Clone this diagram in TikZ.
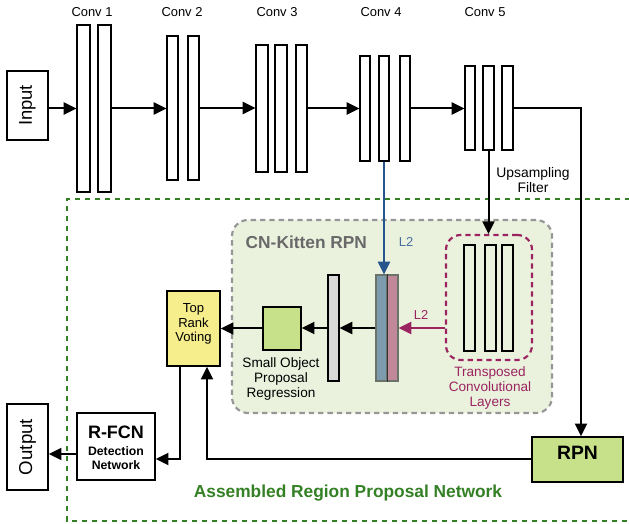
\documentclass[tikz,border=0pt]{standalone}
\usepackage{fontspec}
\setmainfont{Liberation Sans}
\usetikzlibrary{arrows.meta,fit}
\definecolor{agreen}{RGB}{52,128,36}
\definecolor{kfill}{RGB}{234,242,222}
\definecolor{kgray}{RGB}{150,150,150}
\definecolor{ktext}{RGB}{105,105,105}
\definecolor{yel}{RGB}{246,237,140}
\definecolor{lgreen}{RGB}{198,225,138}
\definecolor{lgray}{RGB}{216,216,216}
\definecolor{bline}{RGB}{38,84,140}
\definecolor{bbar}{RGB}{125,155,172}
\definecolor{pbar}{RGB}{192,136,152}
\definecolor{maroon}{RGB}{155,36,96}
\definecolor{cborder}{RGB}{105,115,105}
\begin{document}
\begin{tikzpicture}[x=0.75pt,y=-0.75pt,
  bar/.style={draw,line width=0.9pt,fill=white,inner sep=0pt},
  box/.style={draw,line width=1pt,inner sep=0pt},
  arr/.style={line width=1.5pt,-{Triangle[length=9.5pt,width=9pt]}},
  lbl/.style={font=\fontsize{9.7}{11}\selectfont},
  small/.style={font=\fontsize{10.2}{11.2}\selectfont,align=center,inner sep=0pt},
]
\useasboundingbox (0,0) rectangle (629,524);

% Assembled RPN frame
\draw[agreen,line width=1.8pt,dash pattern=on 3.8pt off 3.7pt] (640,199) -- (67,199) -- (67,521) -- (640,521);
\node[font=\bfseries\fontsize{13}{15}\selectfont,text=agreen] (asm) at (348,493) {Assembled Region Proposal Network};

% CN-Kitten box
\node[draw=kgray,fill=kfill,line width=1.6pt,dash pattern=on 4pt off 3pt,rounded corners=12pt,inner sep=0pt,fit={(232,220) (552,413)}] (kit) {};
\node[anchor=west,font=\bfseries\fontsize{13}{15}\selectfont,text=ktext] (kitt) at (241,242) {CN-Kitten RPN};

% Input / Output
\node[box,fit={(7,71) (48,140)}] (input) {};
\node[rotate=90,font=\fontsize{13.8}{15}\selectfont] (inputt) at (input) {Input};
\node[box,fit={(7,404) (48,490)}] (output) {};
\node[rotate=90,font=\fontsize{14}{15}\selectfont] (outputt) at (output) {Output};

% Conv bars
\node[bar,fit={(77,25) (90,192)}] (c1a) {};
\node[bar,fit={(98,25) (111,192)}] (c1b) {};
\node[bar,fit={(167,36) (178,180)}] (c2a) {};
\node[bar,fit={(188,36) (199,180)}] (c2b) {};
\node[bar,fit={(256,45) (268,172)}] (c3a) {};
\node[bar,fit={(275,45) (287,172)}] (c3b) {};
\node[bar,fit={(296,45) (307,172)}] (c3c) {};
\node[bar,fit={(360,56) (370,161)}] (c4a) {};
\node[bar,fit={(379,56) (389,161)}] (c4b) {};
\node[bar,fit={(400,56) (410,161)}] (c4c) {};
\node[bar,fit={(465,66) (475,150)}] (c5a) {};
\node[bar,fit={(483,66) (494,150)}] (c5b) {};
\node[bar,fit={(502,66) (513,150)}] (c5c) {};

\node[lbl] (l1) at (92,12) {Conv 1};
\node[lbl] (l2) at (182,12) {Conv 2};
\node[lbl] (l3) at (277,12) {Conv 3};
\node[lbl] (l4) at (381,12) {Conv 4};
\node[lbl] (l5) at (485,12) {Conv 5};

\draw[arr] (input.east |- c1a.west) -- (c1a.west);
\draw[arr] (c1b.east) -- (c1b.east -| c2a.west);
\draw[arr] (c2b.east) -- (c2b.east -| c3a.west);
\draw[arr] (c3c.east) -- (c3c.east -| c4a.west);
\draw[arr] (c4c.east) -- (c4c.east -| c5a.west);

% Transposed conv layers
\node[draw=maroon,line width=1.6pt,dash pattern=on 4pt off 3pt,rounded corners=11pt,inner sep=0pt,fit={(446,235) (532,360)}] (tbox) {};
\node[bar,fill=none,fit={(464,245) (475,351)}] (t1) {};
\node[bar,fill=none,fit={(485,245) (496,351)}] (t2) {};
\node[bar,fill=none,fit={(502,245) (513,351)}] (t3) {};
\node[small,text=maroon] (tlab) at (490,388) {Transposed\\Convolutional\\Layers};

% Concat bar
\node[draw=cborder,line width=0.9pt,fill=bbar,inner sep=0pt,fit={(376,275) (387,381)}] (cat1) {};
\node[draw=cborder,line width=0.9pt,fill=pbar,inner sep=0pt,fit={(387,275) (398,381)}] (cat2) {};
\draw[line width=0.9pt,black!80] (cat1.north east) -- (cat1.south east);

% gray bar, small box, voting
\node[bar,fill=lgray,fit={(328,275) (339,381)}] (gbar) {};
\node[box,fill=lgreen,fit={(263,307) (301,350)}] (sbox) {};
\node[small] (slab) at (281,379) {Small Object\\Proposal\\Regression};
\node[box,fill=yel,fit={(167,291) (220,366)},font=\fontsize{9.8}{11}\selectfont,align=center] (trv) {Top\\Rank\\Voting};

% R-FCN and RPN
\node[box,fill=white,fit={(77,413) (155,480)}] (rfcn) {};
\node[font=\bfseries\fontsize{13.5}{15}\selectfont] (rfcnt) at (116,432) {R-FCN};
\node[font=\bfseries\fontsize{9.2}{10.5}\selectfont,align=center] (rfcnd) at (116,458) {Detection\\Network};
\node[box,fill=lgreen,fit={(532,437) (623,482)},font=\bfseries\fontsize{14.5}{16}\selectfont] (rpn) {RPN};

% connectors in kitten
\draw[arr] (cat1.west) -- (gbar.east);
\draw[arr] (gbar.west) -- (gbar.west -| sbox.east);
\draw[arr] (sbox.west) -- (sbox.west -| trv.east);
\draw[arr,maroon] (tbox.west |- cat2.east) -- (cat2.east);
\node[text=maroon,font=\fontsize{9.7}{11}\selectfont] (l2m) at (421,315) {L2};

% blue L2
\draw[arr,bline] (c4b.south) -- (c4b.south |- cat1.north);
\node[text=bline!85!white,font=\fontsize{9.7}{11}\selectfont] (l2b) at (406,242) {L2};

% upsampling
\draw[arr] (c5b.south) -- (c5b.south |- tbox.north);
\node[small,font=\fontsize{10.4}{11.2}\selectfont] (upl) at (533,180) {Upsampling\\Filter};

% conv5 to RPN
\coordinate (k1) at (581,108);
\draw[arr] (c5c.east |- k1) -- (k1) -- (k1 |- rpn.north);

% RPN to voting
\coordinate (k2) at (207,459);
\draw[arr] (rpn.west |- k2) -- (k2) -- (k2 |- trv.south);

% voting to R-FCN
\coordinate (k3) at (180,459);
\draw[arr] (k3 |- trv.south) -- (k3) -- (k3 -| rfcn.east);

% R-FCN to output
\coordinate (k4) at (77,454);
\draw[arr] (k4) -- (k4 -| output.east);
\end{tikzpicture}
\end{document}
